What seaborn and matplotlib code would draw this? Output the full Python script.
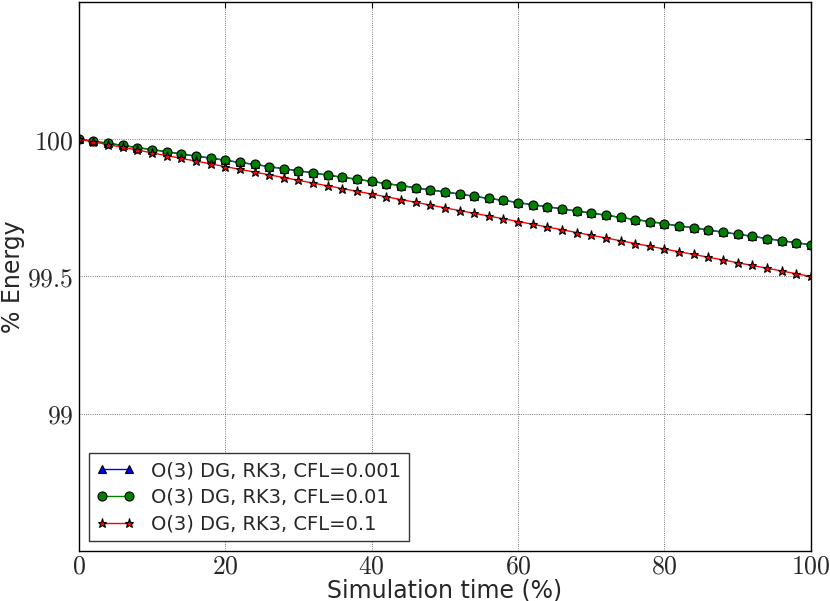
import matplotlib
matplotlib.use("Agg")
import matplotlib.pyplot as plt
import matplotlib.ticker as mticker
import numpy as np
import pandas as pd
import seaborn as sns

# simulation time (%), one sample every 2 %
time_pct = [0, 2, 4, 6, 8, 10, 12, 14, 16, 18, 20, 22, 24, 26, 28, 30, 32, 34, 36, 38,
            40, 42, 44, 46, 48, 50, 52, 54, 56, 58, 60, 62, 64, 66, 68, 70, 72, 74, 76, 78,
            80, 82, 84, 86, 88, 90, 92, 94, 96, 98, 100]

# % energy
energy_cfl_001 = [100.000, 99.992, 99.985, 99.977, 99.969, 99.962, 99.954, 99.946, 99.938, 99.931,
                  99.923, 99.915, 99.908, 99.900, 99.892, 99.885, 99.877, 99.869, 99.861, 99.854,
                  99.846, 99.838, 99.831, 99.823, 99.815, 99.808, 99.800, 99.792, 99.784, 99.777,
                  99.769, 99.761, 99.754, 99.746, 99.738, 99.731, 99.723, 99.715, 99.707, 99.700,
                  99.692, 99.684, 99.677, 99.669, 99.661, 99.654, 99.646, 99.638, 99.630, 99.623,
                  99.615]
energy_cfl_01 = [100.000, 99.992, 99.985, 99.977, 99.969, 99.962, 99.954, 99.946, 99.938, 99.931,
                 99.923, 99.915, 99.908, 99.900, 99.892, 99.885, 99.877, 99.869, 99.861, 99.854,
                 99.846, 99.838, 99.831, 99.823, 99.815, 99.808, 99.800, 99.792, 99.784, 99.777,
                 99.769, 99.761, 99.754, 99.746, 99.738, 99.731, 99.723, 99.715, 99.707, 99.700,
                 99.692, 99.684, 99.677, 99.669, 99.661, 99.654, 99.646, 99.638, 99.630, 99.623,
                 99.615]
energy_cfl_1 = [100.000, 99.990, 99.980, 99.970, 99.960, 99.950, 99.940, 99.930, 99.920, 99.910,
                99.900, 99.890, 99.880, 99.870, 99.860, 99.850, 99.840, 99.830, 99.820, 99.810,
                99.800, 99.790, 99.780, 99.770, 99.760, 99.750, 99.740, 99.730, 99.720, 99.710,
                99.700, 99.690, 99.680, 99.670, 99.660, 99.650, 99.640, 99.630, 99.620, 99.610,
                99.600, 99.590, 99.580, 99.570, 99.560, 99.550, 99.540, 99.530, 99.520, 99.510,
                99.500]

labels = ["O(3) DG, RK3, CFL=0.001", "O(3) DG, RK3, CFL=0.01", "O(3) DG, RK3, CFL=0.1"]
xticks = [0, 20, 40, 60, 80, 100]
yticks = [99, 99.5, 100]

sns.set_style("white")
plt.rcParams["mathtext.fontset"] = "cm"
plt.rcParams["font.family"] = ["DejaVu Sans"]

fig = plt.figure(figsize=(8.3, 6.01), dpi=100)
ax = fig.add_axes([0.095, 0.083, 0.882, 0.914])

series = [
    (energy_cfl_001, "blue", "^", 6),
    (energy_cfl_01, "green", "o", 6.5),
    (energy_cfl_1, "red", "*", 6.5),
]
for (vals, col, mk, ms), lab in zip(series, labels):
    df = pd.DataFrame({"t": time_pct, "e": vals})
    sns.lineplot(data=df, x="t", y="e", ax=ax, color=col, marker=mk, markersize=ms,
                 markeredgecolor="black", markeredgewidth=0.8, linewidth=1.0, label=lab)

ax.set_xlim(0, 100)
ax.set_ylim(98.5, 100.5)
ax.set_xticks(xticks)
ax.set_yticks(yticks)
fmt = mticker.FuncFormatter(lambda v, p: f"${v:g}$")
ax.xaxis.set_major_formatter(fmt)
ax.yaxis.set_major_formatter(fmt)
ax.tick_params(axis="both", which="major", labelsize=18.5, direction="in", length=4,
               top=True, right=True, color="black", pad=4)
ax.tick_params(axis="x", pad=2)
ax.grid(True, color="black", linestyle=":", linewidth=0.6, alpha=0.7)
for sp in ax.spines.values():
    sp.set_color("black")
    sp.set_linewidth(1.0)

ax.set_xlabel("Simulation time (%)", fontsize=17)
ax.set_ylabel("% Energy", fontsize=17)
ax.xaxis.set_label_coords(0.5, -0.05)
ax.yaxis.set_label_coords(-0.073, 0.5)

leg = ax.legend(loc="lower left", fontsize=14, numpoints=2, fancybox=False,
                framealpha=1, edgecolor="#333333", borderaxespad=0.5,
                handlelength=2.0, labelspacing=0.4)
leg.get_frame().set_linewidth(1.0)

fig.savefig("out.png", dpi=100)
